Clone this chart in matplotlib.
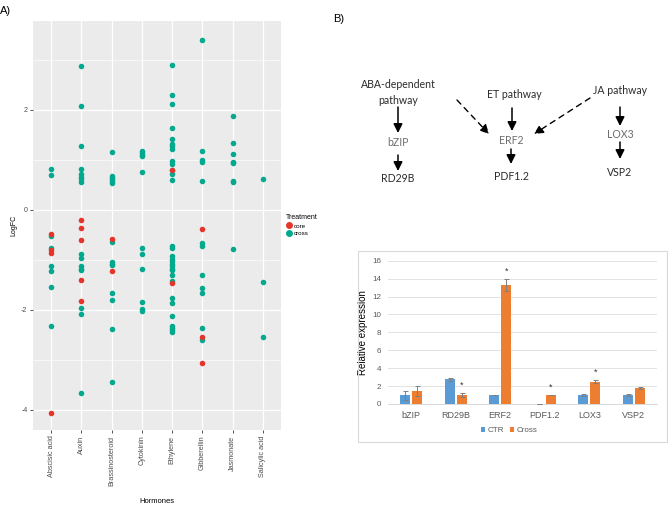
import matplotlib
matplotlib.use("Agg")
import matplotlib.pyplot as plt
import numpy as np
from matplotlib.patches import Rectangle
from matplotlib.lines import Line2D

# panel A: LogFC per hormone, split by treatment
hormones = ["Abscisic acid", "Auxin", "Brassinosteroid", "Cytokinin",
            "Ethylene", "Gibberellin", "Jasmonate", "Salicylic acid"]
cross_vals = [
    [0.83, 0.70, -0.51, -0.76, -1.12, -1.22, -1.54, -2.31],
    [2.89, 2.09, 1.29, 0.83, 0.72, 0.67, 0.62, 0.57, -0.88, -0.96, -1.12,
     -1.17, -1.20, -1.96, -2.07, -3.65],
    [1.17, 0.69, 0.65, 0.62, 0.58, 0.54, -0.63, -1.03, -1.07, -1.10, -1.65,
     -1.80, -2.37, -3.43],
    [1.18, 1.15, 1.11, 1.08, 0.77, -0.75, -0.88, -1.18, -1.83, -1.97, -2.02],
    [2.91, 2.30, 2.13, 1.64, 1.43, 1.32, 1.28, 1.23, 0.99, 0.93, 0.80, 0.73,
     0.61, -0.72, -0.75, -0.92, -0.97, -1.01, -1.07, -1.12, -1.17, -1.20,
     -1.29, -1.41, -1.75, -1.85, -2.12, -2.32, -2.36, -2.40, -2.43],
    [3.41, 1.19, 1.00, 0.97, 0.59, -0.65, -0.71, -1.29, -1.55, -1.66, -2.36,
     -2.60],
    [1.88, 1.34, 1.13, 0.97, 0.95, 0.59, 0.56, -0.78],
    [0.63, -1.44, -2.53],
]
core_vals = [
    [-0.47, -0.80, -0.85, -4.05],
    [-0.19, -0.35, -0.60, -1.40, -1.81],
    [-0.57, -1.22],
    [],
    [0.81, -1.45],
    [-0.37, -2.53, -3.05],
    [],
    [],
]

# panel B: qPCR relative expression
genes = ["bZIP", "RD29B", "ERF2", "PDF1.2", "LOX3", "VSP2"]
ctr_mean = [1.0, 2.75, 1.0, 0.02, 1.0, 1.0]
ctr_err = [0.5, 0.15, 0.05, 0.0, 0.12, 0.1]
cross_mean = [1.45, 1.0, 13.3, 1.0, 2.5, 1.75]
cross_err = [0.55, 0.25, 0.65, 0.05, 0.15, 0.12]
significant = [False, True, True, True, True, False]

W, H = 668, 507
fig = plt.figure(figsize=(W / 100, H / 100), dpi=100)
plt.rcParams["font.family"] = ["Liberation Sans", "DejaVu Sans"]

RED = "#E5352B"
TEAL = "#03A98E"

# ---- panel A ----
ax = fig.add_axes([33 / W, 1 - 430 / H, (281 - 33) / W, (430 - 21) / H])
ax.set_facecolor("#EBEBEB")
for i, vals in enumerate(cross_vals):
    ax.scatter(np.full(len(vals), i), vals, s=16, color=TEAL, lw=0, zorder=3)
for i, vals in enumerate(core_vals):
    ax.scatter(np.full(len(vals), i), vals, s=16, color=RED, lw=0, zorder=4)
ax.set_xlim(-0.6, len(hormones) - 0.4)
ax.set_ylim(-4.4, 3.78)
ax.set_xticks(range(len(hormones)))
ax.set_xticklabels(hormones, rotation=90, fontsize=5.2, color="#4D4D4D")
ax.set_yticks([-4, -2, 0, 2])
ax.set_yticklabels(["-4", "-2", "0", "2"], fontsize=5, color="#4D4D4D")
ax.set_yticks([-3, -1, 1, 3], minor=True)
ax.tick_params(axis="both", which="major", length=2, width=0.6, color="#333333", pad=2)
ax.tick_params(axis="y", which="minor", length=0)
ax.grid(True, which="major", color="white", lw=0.9)
ax.grid(True, which="minor", axis="y", color="white", lw=0.45)
ax.set_axisbelow(True)
for sp in ax.spines.values():
    sp.set_visible(False)
ax.set_ylabel("LogFC", fontsize=5, labelpad=3)
ax.set_xlabel("Hormones", fontsize=5.5, labelpad=9)

handles = [
    Line2D([], [], marker="o", ls="", color=RED, markersize=4, label="core"),
    Line2D([], [], marker="o", ls="", color=TEAL, markersize=4, label="cross"),
]
leg = ax.legend(handles=handles, title="Treatment", loc="upper left",
                bbox_to_anchor=(1.01, 0.535), frameon=False, fontsize=4.5,
                title_fontsize=5, handletextpad=0.3, handlelength=1.0,
                labelspacing=0.4, borderaxespad=0)
leg._legend_box.align = "left"

fig.text(0 / W, 1 - 14 / H, "A)", fontsize=8, ha="left")
fig.text(333 / W, 1 - 22 / H, "B)", fontsize=8, ha="left")

# ---- panel B bar chart ----
BLUE = "#5B9BD5"
ORANGE = "#ED7D31"
fig.patches.append(Rectangle((358 / W, 1 - 442 / H), (667 - 358) / W, (442 - 251) / H,
                             transform=fig.transFigure, fill=False,
                             edgecolor="#D9D9D9", lw=0.8))
bx = fig.add_axes([388 / W, 1 - 404 / H, (657 - 388) / W, (404 - 260.7) / H])
x = np.arange(len(genes))
bw = 0.23
ekw = dict(ecolor="#7F7F7F", elinewidth=0.7, capsize=1.8, capthick=0.7)
bx.bar(x - 0.135, ctr_mean, bw, yerr=ctr_err, color=BLUE, label="CTR",
       error_kw=ekw, zorder=3)
bx.bar(x + 0.135, cross_mean, bw, yerr=cross_err, color=ORANGE, label="Cross",
       error_kw=ekw, zorder=3)
for i, sig in enumerate(significant):
    if sig:
        bx.text(x[i] + 0.135, cross_mean[i] + cross_err[i] + 0.35, "*",
                ha="center", va="bottom", fontsize=6.5, color="#333333")
bx.set_xlim(-0.52, len(genes) - 0.48)
bx.set_ylim(0, 16)
bx.set_yticks(range(0, 17, 2))
bx.set_xticks(x)
bx.set_xticklabels(genes, fontsize=6.5, color="#595959")
bx.tick_params(axis="y", labelsize=5.8, labelcolor="#595959", length=0, pad=5)
bx.tick_params(axis="x", length=0, pad=5)
bx.grid(True, axis="y", color="#E3E3E3", lw=0.7)
bx.set_axisbelow(True)
for name, sp in bx.spines.items():
    if name == "bottom":
        sp.set_color("#D9D9D9")
        sp.set_linewidth(0.7)
    else:
        sp.set_visible(False)
bx.set_ylabel("Relative expression", fontsize=7, color="#000000", labelpad=3)
bx.legend(loc="center", bbox_to_anchor=(0.45, -0.185), ncol=2, frameon=False,
          fontsize=5.8, handlelength=0.55, handleheight=0.55, handletextpad=0.3,
          columnspacing=0.7, labelcolor="#595959")

# ---- panel B pathway diagram ----
ov = fig.add_axes([0, 0, 1, 1], facecolor="none")
ov.set_xlim(0, W)
ov.set_ylim(H, 0)
ov.axis("off")

dfont = dict(family=["Lato", "DejaVu Sans"], fontsize=7.6, ha="center", va="center")
dark = "#2B2B2B"
grey = "#6E6E6E"
ov.text(398, 85, "ABA-dependent", color=dark, **dfont)
ov.text(398, 101, "pathway", color=dark, **dfont)
ov.text(398, 142, "bZIP", color=grey, **dfont)
ov.text(398, 178, "RD29B", color=dark, **dfont)
ov.text(514, 95, "ET pathway", color=dark, **dfont)
ov.text(511, 140, "ERF2", color=grey, **dfont)
ov.text(511, 176, "PDF1.2", color=dark, **dfont)
ov.text(620, 90, "JA pathway", color=dark, **dfont)
ov.text(620, 134, "LOX3", color=grey, **dfont)
ov.text(620, 173, "VSP2", color=dark, **dfont)

aprops = dict(arrowstyle="-|>,head_length=0.6,head_width=0.3", color="black",
              lw=1.1, shrinkA=0, shrinkB=0, mutation_scale=9)
solid = [((398, 107), (398, 133)), ((398, 155), (398, 171)),
         ((512, 108), (512, 131)), ((511, 149), (511, 164)),
         ((620, 107), (620, 126)), ((620, 142), (620, 159))]
for start, end in solid:
    ov.annotate("", xy=end, xytext=start, arrowprops=aprops)
dprops = dict(aprops, linestyle=(0, (4, 3.5)), lw=1.0)
ov.annotate("", xy=(489, 134), xytext=(457, 100), arrowprops=dprops)
ov.annotate("", xy=(534, 134), xytext=(590, 98), arrowprops=dprops)

fig.savefig("out.png", dpi=100)
